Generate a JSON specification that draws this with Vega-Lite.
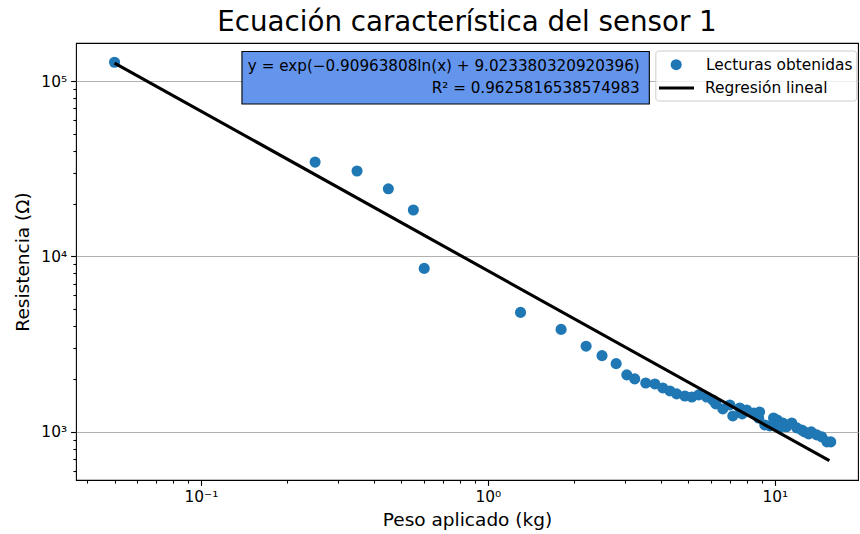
{
  "$schema": "https://vega.github.io/schema/vega-lite/v6.json",
  "width": 782,
  "height": 437,
  "autosize": {"type": "none"},
  "padding": {"left": 76, "top": 43, "right": 2, "bottom": 54},
  "background": "white",
  "title": {"text": "Ecuación característica del sensor 1", "font": "DejaVu Sans", "fontSize": 27.7, "fontWeight": "normal", "color": "black", "anchor": "middle", "frame": "group", "offset": 6},
  "config": {
    "view": {"stroke": "black", "strokeWidth": 1.1},
    "axis": {"domain": false, "labelFont": "DejaVu Sans", "labelFontSize": 15.4, "labelColor": "black", "titleFont": "DejaVu Sans", "titleFontSize": 18.5, "titleFontWeight": "normal", "titleColor": "black", "tickColor": "black", "tickWidth": 1.1, "labelFlush": false, "labelOverlap": false},
    "legend": {"orient": "none", "labelFont": "DejaVu Sans", "labelFontSize": 15.4, "labelColor": "black", "padding": 4}
  },
  "datasets": {
    "lecturas": [
      {"peso": 0.05, "resistencia": 128000, "serie": "Lecturas obtenidas"},
      {"peso": 0.25, "resistencia": 34500, "serie": "Lecturas obtenidas"},
      {"peso": 0.35, "resistencia": 30700, "serie": "Lecturas obtenidas"},
      {"peso": 0.45, "resistencia": 24300, "serie": "Lecturas obtenidas"},
      {"peso": 0.55, "resistencia": 18400, "serie": "Lecturas obtenidas"},
      {"peso": 0.6, "resistencia": 8550, "serie": "Lecturas obtenidas"},
      {"peso": 1.3, "resistencia": 4800, "serie": "Lecturas obtenidas"},
      {"peso": 1.8, "resistencia": 3840, "serie": "Lecturas obtenidas"},
      {"peso": 2.2, "resistencia": 3080, "serie": "Lecturas obtenidas"},
      {"peso": 2.5, "resistencia": 2720, "serie": "Lecturas obtenidas"},
      {"peso": 2.8, "resistencia": 2450, "serie": "Lecturas obtenidas"},
      {"peso": 3.05, "resistencia": 2115, "serie": "Lecturas obtenidas"},
      {"peso": 3.25, "resistencia": 2005, "serie": "Lecturas obtenidas"},
      {"peso": 3.55, "resistencia": 1900, "serie": "Lecturas obtenidas"},
      {"peso": 3.82, "resistencia": 1877, "serie": "Lecturas obtenidas"},
      {"peso": 4.07, "resistencia": 1781, "serie": "Lecturas obtenidas"},
      {"peso": 4.31, "resistencia": 1712, "serie": "Lecturas obtenidas"},
      {"peso": 4.55, "resistencia": 1647, "serie": "Lecturas obtenidas"},
      {"peso": 4.86, "resistencia": 1603, "serie": "Lecturas obtenidas"},
      {"peso": 5.14, "resistencia": 1582, "serie": "Lecturas obtenidas"},
      {"peso": 5.43, "resistencia": 1625, "serie": "Lecturas obtenidas"},
      {"peso": 5.79, "resistencia": 1582, "serie": "Lecturas obtenidas"},
      {"peso": 6.08, "resistencia": 1520, "serie": "Lecturas obtenidas"},
      {"peso": 6.23, "resistencia": 1444, "serie": "Lecturas obtenidas"},
      {"peso": 6.59, "resistencia": 1352, "serie": "Lecturas obtenidas"},
      {"peso": 6.97, "resistencia": 1425, "serie": "Lecturas obtenidas"},
      {"peso": 7.14, "resistencia": 1233, "serie": "Lecturas obtenidas"},
      {"peso": 7.55, "resistencia": 1370, "serie": "Lecturas obtenidas"},
      {"peso": 7.7, "resistencia": 1266, "serie": "Lecturas obtenidas"},
      {"peso": 7.98, "resistencia": 1334, "serie": "Lecturas obtenidas"},
      {"peso": 8.45, "resistencia": 1283, "serie": "Lecturas obtenidas"},
      {"peso": 8.85, "resistencia": 1300, "serie": "Lecturas obtenidas"},
      {"peso": 8.79, "resistencia": 1201, "serie": "Lecturas obtenidas"},
      {"peso": 9.23, "resistencia": 1096, "serie": "Lecturas obtenidas"},
      {"peso": 9.61, "resistencia": 1082, "serie": "Lecturas obtenidas"},
      {"peso": 9.9, "resistencia": 1200, "serie": "Lecturas obtenidas"},
      {"peso": 10.2, "resistencia": 1170, "serie": "Lecturas obtenidas"},
      {"peso": 10.4, "resistencia": 1054, "serie": "Lecturas obtenidas"},
      {"peso": 10.66, "resistencia": 1125, "serie": "Lecturas obtenidas"},
      {"peso": 10.98, "resistencia": 1070, "serie": "Lecturas obtenidas"},
      {"peso": 11.46, "resistencia": 1125, "serie": "Lecturas obtenidas"},
      {"peso": 11.93, "resistencia": 1054, "serie": "Lecturas obtenidas"},
      {"peso": 12.42, "resistencia": 1026, "serie": "Lecturas obtenidas"},
      {"peso": 12.7, "resistencia": 1000, "serie": "Lecturas obtenidas"},
      {"peso": 13.13, "resistencia": 975, "serie": "Lecturas obtenidas"},
      {"peso": 13.4, "resistencia": 1000, "serie": "Lecturas obtenidas"},
      {"peso": 14.0, "resistencia": 962, "serie": "Lecturas obtenidas"},
      {"peso": 14.58, "resistencia": 937, "serie": "Lecturas obtenidas"},
      {"peso": 15.2, "resistencia": 877, "serie": "Lecturas obtenidas"},
      {"peso": 15.67, "resistencia": 877, "serie": "Lecturas obtenidas"}
    ],
    "regresion": [
      {"peso": 0.05, "resistencia": 126555, "serie": "Regresión lineal"},
      {"peso": 15.5, "resistencia": 685.6, "serie": "Regresión lineal"}
    ],
    "anotacion": [
      {"linea1": "y = exp(−0.90963808ln(x) + 9.023380320920396)", "linea2": "R² = 0.9625816538574983"}
    ]
  },
  "layer": [
    {
      "data": {"name": "lecturas"},
      "mark": {"type": "circle", "size": 123, "opacity": 1},
      "encoding": {
        "x": {
          "field": "peso", "type": "quantitative",
          "scale": {"type": "log", "domain": [0.0367, 19.5], "nice": false, "zero": false},
          "axis": {
            "title": "Peso aplicado (kg)",
            "values": [0.04, 0.05, 0.06, 0.07, 0.08, 0.09, 0.1, 0.2, 0.3, 0.4, 0.5, 0.6, 0.7, 0.8, 0.9, 1, 2, 3, 4, 5, 6, 7, 8, 9, 10],
            "labelExpr": "datum.value == 0.1 ? '10⁻¹' : datum.value == 1 ? '10⁰' : datum.value == 10 ? '10¹' : ''",
            "tickSize": {"condition": {"test": "datum.value == 0.1 || datum.value == 1 || datum.value == 10", "value": 5.4}, "value": 3.1},
            "grid": false, "labelPadding": 4, "titlePadding": 6
          }
        },
        "y": {
          "field": "resistencia", "type": "quantitative",
          "scale": {"type": "log", "domain": [532, 164700], "nice": false, "zero": false},
          "axis": {
            "title": "Resistencia (Ω)",
            "values": [600, 700, 800, 900, 1000, 2000, 3000, 4000, 5000, 6000, 7000, 8000, 9000, 10000, 20000, 30000, 40000, 50000, 60000, 70000, 80000, 90000, 100000],
            "labelExpr": "datum.value == 1000 ? '10³' : datum.value == 10000 ? '10⁴' : datum.value == 100000 ? '10⁵' : ''",
            "tickSize": {"condition": {"test": "datum.value == 1000 || datum.value == 10000 || datum.value == 100000", "value": 5.4}, "value": 3.1},
            "grid": true, "gridColor": "#b0b0b0", "gridWidth": 1.1,
            "gridOpacity": {"condition": {"test": "datum.value == 1000 || datum.value == 10000 || datum.value == 100000", "value": 1}, "value": 0},
            "labelPadding": 4, "titlePadding": 8
          }
        },
        "color": {
          "field": "serie", "type": "nominal",
          "scale": {"range": ["#1f77b4"]},
          "legend": {"title": null, "legendX": 580, "legendY": 10, "symbolType": "circle", "symbolSize": 123, "symbolStrokeWidth": 0, "symbolOffset": 8.5, "labelOffset": 22}
        }
      }
    },
    {
      "data": {"name": "regresion"},
      "mark": {"type": "line", "strokeWidth": 3.1},
      "encoding": {
        "x": {"field": "peso", "type": "quantitative"},
        "y": {"field": "resistencia", "type": "quantitative"},
        "stroke": {
          "field": "serie", "type": "nominal",
          "scale": {"range": ["black"]},
          "legend": {"title": null, "legendX": 580, "legendY": 21.5, "symbolType": "stroke", "symbolSize": 1225, "symbolStrokeWidth": 3.1, "symbolOffset": -3, "labelOffset": 9}
        }
      }
    },
    {
      "data": {"name": "anotacion"},
      "mark": {"type": "rect", "fill": "white", "fillOpacity": 0.8, "stroke": "#cccccc", "strokeWidth": 1, "cornerRadius": 3},
      "encoding": {
        "x": {"datum": 3.85, "type": "quantitative"},
        "x2": {"datum": 19.31},
        "y": {"datum": 148200, "type": "quantitative"},
        "y2": {"datum": 76900}
      }
    },
    {
      "data": {"name": "anotacion"},
      "mark": {"type": "rect", "fill": "#6495ED", "stroke": "black", "strokeWidth": 1.1},
      "encoding": {
        "x": {"datum": 0.139, "type": "quantitative"},
        "x2": {"datum": 3.654},
        "y": {"datum": 147300, "type": "quantitative"},
        "y2": {"datum": 73960}
      }
    },
    {
      "data": {"name": "anotacion"},
      "mark": {"type": "text", "align": "right", "baseline": "middle", "font": "DejaVu Sans", "fontSize": 15.2, "color": "black"},
      "encoding": {
        "x": {"datum": 3.385, "type": "quantitative"},
        "y": {"datum": 121800, "type": "quantitative"},
        "text": {"field": "linea1"}
      }
    },
    {
      "data": {"name": "anotacion"},
      "mark": {"type": "text", "align": "right", "baseline": "middle", "font": "DejaVu Sans", "fontSize": 15.2, "color": "black"},
      "encoding": {
        "x": {"datum": 3.385, "type": "quantitative"},
        "y": {"datum": 91200, "type": "quantitative"},
        "text": {"field": "linea2"}
      }
    }
  ]
}
